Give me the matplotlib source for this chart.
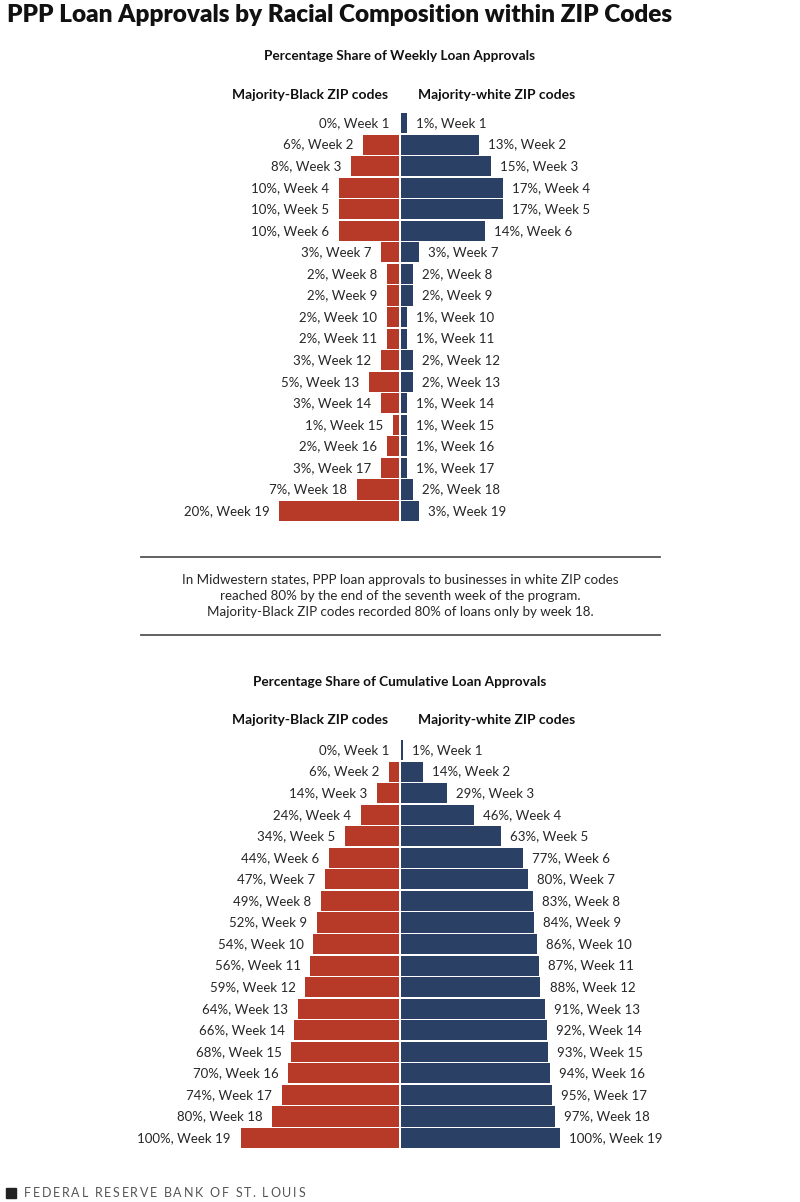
import matplotlib
matplotlib.use("Agg")
import matplotlib.pyplot as plt
from matplotlib.patches import Rectangle

plt.rcParams['font.family'] = ['Lato', 'DejaVu Sans']

weeks = [f"Week {i}" for i in range(1, 20)]
weekly_black = [0, 6, 8, 10, 10, 10, 3, 2, 2, 2, 2, 3, 5, 3, 1, 2, 3, 7, 20]
weekly_white = [1, 13, 15, 17, 17, 14, 3, 2, 2, 1, 1, 2, 2, 1, 1, 1, 1, 2, 3]
cum_black = [0, 6, 14, 24, 34, 44, 47, 49, 52, 54, 56, 59, 64, 66, 68, 70, 74, 80, 100]
cum_white = [1, 14, 29, 46, 63, 77, 80, 83, 84, 86, 87, 88, 91, 92, 93, 94, 95, 97, 100]

title = "PPP Loan Approvals by Racial Composition within ZIP Codes"
sub1 = "Percentage Share of Weekly Loan Approvals"
sub2 = "Percentage Share of Cumulative Loan Approvals"
hdr_black = "Majority-Black ZIP codes"
hdr_white = "Majority-white ZIP codes"
note = ("In Midwestern states, PPP loan approvals to businesses in white ZIP codes\n"
        "reached 80% by the end of the seventh week of the program.\n"
        "Majority-Black ZIP codes recorded 80% of loans only by week 18.")
source = "FEDERAL RESERVE BANK OF ST. LOUIS"

RED = "#B73A28"
BLUE = "#2A4165"

W, H = 800, 1202
fig = plt.figure(figsize=(W / 100, H / 100), dpi=100)

def px_axes(x0, y0, x1, y1):
    return fig.add_axes([x0 / W, 1 - y1 / H, (x1 - x0) / W, (y1 - y0) / H])

def pyramid(top_row_y, px_per_pct, black, white):
    step = 21.56
    n = len(black)
    y0 = top_row_y - step / 2
    y1 = y0 + step * n
    ax = px_axes(0, y0, W, y1)
    half = 400 / px_per_pct
    ax.set_xlim(-half, half)
    ax.set_ylim(n - 0.5, -0.5)
    ax.axis('off')
    gap = 1.0 / px_per_pct
    for i in range(n):
        b, w = black[i], white[i]
        if b > 0:
            ax.barh(i, -b, left=-gap, height=0.93, color=RED, edgecolor='none')
        ax.barh(i, w, left=gap, height=0.93, color=BLUE, edgecolor='none')
        ax.annotate(f"{b}%, {weeks[i]}", xy=(-gap - b, i), xytext=(-7, 0),
                    textcoords='offset points', ha='right', va='center',
                    fontsize=9.5, color='#262626')
        ax.annotate(f"{w}%, {weeks[i]}", xy=(gap + w, i), xytext=(6.5, 0),
                    textcoords='offset points', ha='left', va='center',
                    fontsize=9.5, color='#262626')
    return ax

pyramid(123, 6.0, weekly_black, weekly_white)
pyramid(750, 1.585, cum_black, cum_white)

def ftext(x, y, s, **kw):
    return fig.text(x / W, 1 - y / H, s, **kw)

ftext(7, 15, title, fontsize=17.6, fontweight='heavy', ha='left', va='center', color='#111111')
ftext(400, 56, sub1, fontsize=9.8, fontweight='bold', ha='center', va='center', color='#111111')
ftext(400, 682, sub2, fontsize=9.8, fontweight='bold', ha='center', va='center', color='#111111')
for yy in (95, 720):
    ftext(388, yy, hdr_black, fontsize=10, fontweight='bold', ha='right', va='center', color='#111111')
    ftext(418, yy, hdr_white, fontsize=10, fontweight='bold', ha='left', va='center', color='#111111')

ftext(400, 596, note, fontsize=9.6, ha='center', va='center', color='#262626', linespacing=1.35)

for yy in (557, 635):
    fig.add_artist(plt.Line2D([141 / W, 660 / W], [1 - yy / H, 1 - yy / H],
                              color='#555555', linewidth=1.3))

fig.add_artist(Rectangle((6 / W, 1 - 1198 / H), 10 / W, 10 / H, color='#222222',
                         transform=fig.transFigure))

# letter-spaced footer
renderer = fig.canvas.get_renderer()
chars = []
widths = []
for ch in source:
    t = ftext(0, 1193, ch if ch != " " else "I", fontsize=9, ha='left', va='center', color='#555555')
    widths.append(t.get_window_extent(renderer).width if ch != " " else 3.0)
    t.remove()
x_start, x_end = 24, 305
total = sum(widths)
track = (x_end - x_start - total) / (len(source) - 1)
x = x_start
for ch, w in zip(source, widths):
    if ch != " ":
        ftext(x, 1193, ch, fontsize=9, ha='left', va='center', color='#555555')
    x += w + track

fig.savefig("out.png", dpi=100)
